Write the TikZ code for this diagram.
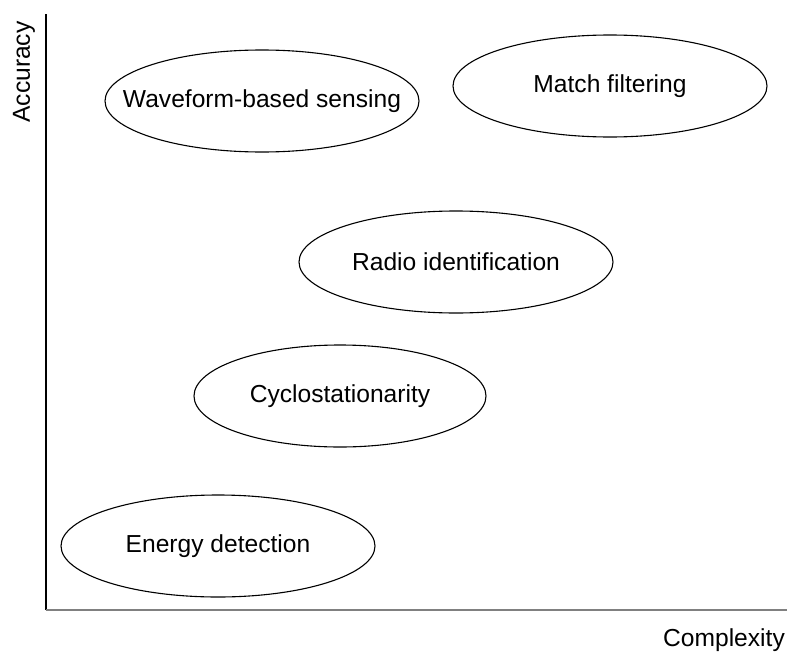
\documentclass[tikz,border=0pt]{standalone}
\usepackage{fontspec}
\setmainfont{Liberation Sans}
\usetikzlibrary{shapes.geometric}
\tikzset{
    method/.style={ellipse, draw, line width=1.1pt, inner xsep=-40pt, inner ysep=-10pt,
        minimum width=314pt, minimum height=102pt,
        font=\fontsize{24.6}{29}\selectfont},
    axislabel/.style={font=\fontsize{24.6}{29}\selectfont, inner sep=0pt}
}
\begin{document}
\begin{tikzpicture}[x=1pt, y=-1pt]
    \useasboundingbox (0,0) rectangle (787,653);
    % axes
    \coordinate (origin) at (46,610);
    \coordinate (ytop) at (46,14);
    \coordinate (xend) at (787,610);
    \draw[line width=1.4pt] (origin) -- (ytop);
    \draw[line width=2pt, gray] (origin) -- (xend);
    \node[axislabel, rotate=90] (acc) at (24,72) {Accuracy};
    \node[axislabel] (cplx) at (724,640) {Complexity};
    % methods
    \node[method] (wave) at (262,101) {Waveform-based sensing};
    \node[method] (match) at (610,86) {Match filtering};
    \node[method] (radio) at (456,262) {Radio identification};
    \node[method, minimum width=292pt] (cyclo) at (340,396) {Cyclostationarity};
    \node[method] (energy) at (218,546) {Energy detection};
\end{tikzpicture}
\end{document}
